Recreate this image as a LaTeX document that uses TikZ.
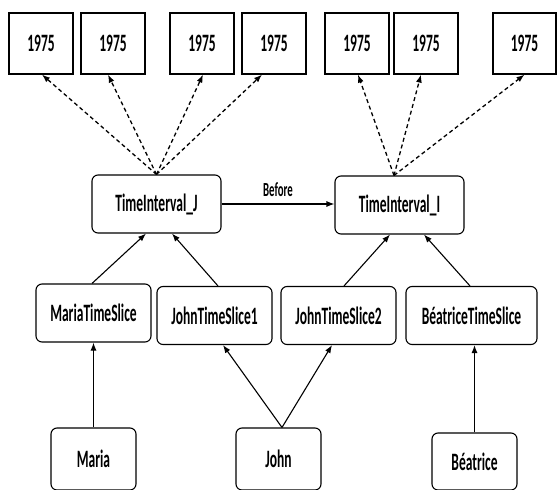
\documentclass[tikz,border=0pt]{standalone}
\usepackage{fontspec}
\setmainfont{Carlito}[FakeStretch=0.54]
\usetikzlibrary{arrows.meta,calc}
\tikzset{
  yearbox/.style={draw, line width=1.2pt, minimum width=64pt, minimum height=61pt, inner sep=0pt, font=\fontsize{25}{25}\selectfont\bfseries},
  rbox/.style={draw, rounded corners=6pt, line width=1.1pt, minimum width=115pt, minimum height=58pt, inner sep=0pt, font=\fontsize{25}{25}\selectfont\bfseries},
  darr/.style={dashed, dash pattern=on 4pt off 3pt, line width=1.3pt, -{Latex[length=8pt,width=6pt]}},
  sarr/.style={line width=1.1pt, -{Latex[length=8pt,width=6pt]}}
}
\begin{document}
\begin{tikzpicture}[x=1pt,y=-1pt]
\useasboundingbox (0,0) rectangle (557,490);
% top year boxes
\node[yearbox] (b1) at (41,43.5) {1975};
\node[yearbox] (b2) at (113,43.5) {1975};
\node[yearbox] (b3) at (202,43.5) {1975};
\node[yearbox] (b4) at (274,43.5) {1975};
\node[yearbox] (b5) at (357,43.5) {1975};
\node[yearbox] (b6) at (426,43.5) {1975};
\node[yearbox, minimum width=63pt] (b7) at (524.5,43.5) {1975};
% time intervals
\node[rbox, minimum width=129pt] (J) at (156.5,204) {TimeInterval\_J};
\node[rbox, minimum width=129pt] (I) at (399.5,205) {TimeInterval\_I};
% time slices
\node[rbox] (MTS) at (93.5,313) {MariaTimeSlice};
\node[rbox] (JTS1) at (214.5,315.5) {JohnTimeSlice1};
\node[rbox] (JTS2) at (338.5,315.5) {JohnTimeSlice2};
\node[rbox, minimum width=131pt] (BTS) at (471.5,315.5) {BéatriceTimeSlice};
% persons
\node[rbox, minimum width=85pt, minimum height=62pt] (M) at (93.5,459) {Maria};
\node[rbox, minimum width=85pt, minimum height=62pt] (Jo) at (278.5,459) {John};
\node[rbox, minimum width=85pt, minimum height=57pt] (B) at (474.5,461.5) {Béatrice};
% dashed arrows
\coordinate (jt) at (J.north);
\coordinate (it) at ([xshift=-5.5pt]I.north);
\draw[darr] (jt) -- ([xshift=1pt]b1.south);
\draw[darr] (jt) -- ([xshift=-5pt]b2.south);
\draw[darr] (jt) -- ([xshift=1pt]b3.south);
\draw[darr] (jt) -- ([xshift=-12pt]b4.south);
\draw[darr] (it) -- ([xshift=1pt]b5.south);
\draw[darr] (it) -- ([xshift=-5pt]b6.south);
\draw[darr] (it) -- (b7.south);
% before
\draw[sarr] (J.east) -- (I.west |- J.east) node[midway, above=3pt, font=\fontsize{20}{20}\selectfont\bfseries] {Before};
% slices to intervals
\draw[sarr] ([xshift=-1.5pt]MTS.north) -- ([xshift=-10.5pt]J.south);
\draw[sarr] ([xshift=3.5pt]JTS1.north) -- ([xshift=15.5pt]J.south);
\draw[sarr] ([xshift=5.5pt]JTS2.north) -- ([xshift=-9.5pt]I.south);
\draw[sarr] ([xshift=-1.5pt]BTS.north) -- ([xshift=24.5pt]I.south);
% persons to slices
\draw[sarr] (M.north) -- (MTS.south);
\draw[sarr] ([xshift=3.5pt]Jo.north) -- ([xshift=8.5pt]JTS1.south);
\draw[sarr] ([xshift=3.5pt]Jo.north) -- ([xshift=-6.5pt]JTS2.south);
\draw[sarr] (B.north) -- (B.north |- BTS.south);
\end{tikzpicture}
\end{document}
